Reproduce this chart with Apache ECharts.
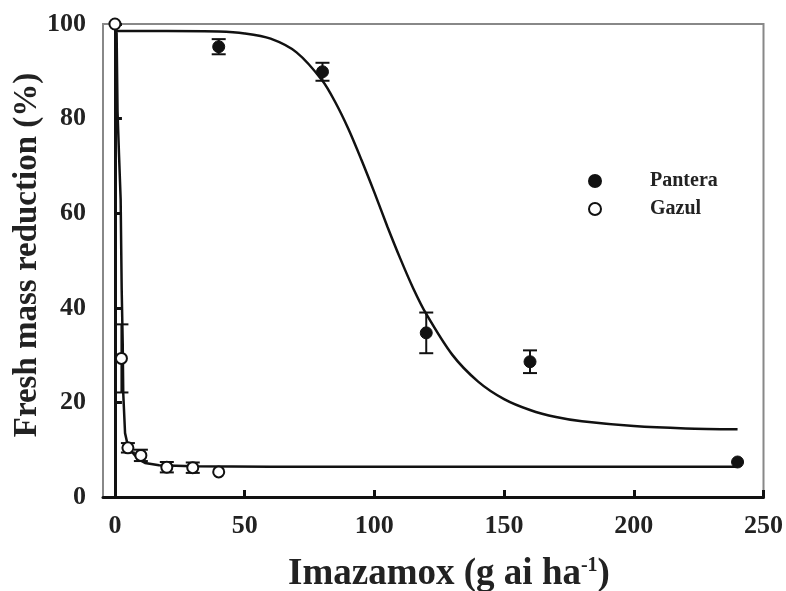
<!DOCTYPE html>
<html>
<head>
<meta charset="utf-8">
<script src="https://cdn.jsdelivr.net/npm/echarts@6/dist/echarts.min.js"></script>
<style>html,body{margin:0;padding:0;background:#fff}#c{width:786px;height:591px}</style>
</head>
<body>
<div id="c"></div>
<script>
// ---- data ----
var xTicks = [0, 50, 100, 150, 200, 250];
var yTicks = [0, 20, 40, 60, 80, 100];

var panteraX = [40, 80, 120, 160, 240];
var panteraY = [95.2, 89.9, 34.7, 28.6, 7.4];
var panteraErr = [1.6, 1.9, 4.3, 2.4, 0];

var gazulX = [0, 2.5, 5, 10, 20, 30, 40];
var gazulY = [100, 29.3, 10.4, 8.8, 6.3, 6.2, 5.3];
var gazulErr = [0, 7.2, 1.0, 1.2, 1.1, 1.1, 0];

// fitted curves, points
var panteraCurveX = [0, 20, 40, 50, 60, 70, 80, 85, 90, 95, 100, 105, 110, 115, 120, 130, 140, 150, 160, 170, 180, 200, 220, 240];
var panteraCurveY = [98.5, 98.5, 98.4, 98.0, 96.9, 94.0, 88.0, 83.4, 77.8, 71.3, 64.4, 57.2, 50.4, 44.1, 38.7, 30.1, 24.4, 20.7, 18.4, 16.9, 16.0, 15.0, 14.5, 14.3];
var gazulCurveX = [0, 0.65, 1.0, 1.6, 2.2, 2.6, 3.0, 3.2, 3.9, 5.0, 6.9, 9.0, 11.6, 17, 30, 60, 120, 240];
var gazulCurveY = [100, 98, 81.5, 72, 63, 44, 32.5, 22, 13.5, 10.8, 9.3, 8.0, 7.2, 6.7, 6.5, 6.4, 6.4, 6.4];

function pairs(xs, ys) { return xs.map(function (x, i) { return [x, ys[i]]; }); }
function errData(xs, ys, es) { return xs.map(function (x, i) { return [x, ys[i] - es[i], ys[i] + es[i]]; }).filter(function (d, i) { return es[i] > 0; }); }

var FONT = "'Liberation Serif','Times New Roman',serif";
var TXT = '#222';

function errRender(params, api) {
  var x = api.value(0);
  var lo = api.coord([x, api.value(1)]);
  var hi = api.coord([x, api.value(2)]);
  var w = 7;
  var st = { stroke: '#111', lineWidth: 2 };
  return {
    type: 'group',
    children: [
      { type: 'line', shape: { x1: lo[0], y1: lo[1], x2: hi[0], y2: hi[1] }, style: st },
      { type: 'line', shape: { x1: lo[0] - w, y1: lo[1], x2: lo[0] + w, y2: lo[1] }, style: st },
      { type: 'line', shape: { x1: hi[0] - w, y1: hi[1], x2: hi[0] + w, y2: hi[1] }, style: st }
    ]
  };
}

var chart = echarts.init(document.getElementById('c'), null, { renderer: 'canvas' });
chart.setOption({
  animation: false,
  backgroundColor: '#fff',
  grid: { left: 103, right: 22, top: 24, bottom: 94, show: true, borderColor: '#888', borderWidth: 2, backgroundColor: 'transparent' },
  xAxis: {
    type: 'value', min: -4.6, max: 250,
    splitLine: { show: false },
    axisLine: { onZero: false, lineStyle: { color: '#111', width: 3 } },
    axisTick: { inside: true, length: 7, lineStyle: { color: '#111', width: 3 }, customValues: xTicks },
    axisLabel: { customValues: xTicks, color: TXT, fontFamily: FONT, fontWeight: 'bold', fontSize: 26, margin: 16 }
  },
  yAxis: {
    type: 'value', min: 0, max: 100, interval: 20,
    splitLine: { show: false },
    axisLine: { lineStyle: { color: '#111', width: 3 } },
    axisTick: { inside: true, length: 7, lineStyle: { color: '#111', width: 3 } },
    axisLabel: { color: TXT, fontFamily: FONT, fontWeight: 'bold', fontSize: 26, margin: 17 }
  },
  legend: {
    orient: 'vertical', left: 583, top: 166, itemWidth: 12, itemHeight: 12, itemGap: 8,
    data: ['Pantera', 'Gazul'],
    textStyle: { color: TXT, fontFamily: FONT, fontWeight: 'bold', fontSize: 20, padding: [0, 0, 0, 44] }
  },
  graphic: [
    { type: 'text', x: 27, y: 255, rotation: Math.PI / 2, style: { text: 'Fresh mass reduction (%)', font: 'bold 33px ' + FONT, fill: TXT, align: 'center', verticalAlign: 'middle' } },
    { type: 'text', x: 449, y: 574, style: { text: '{a|Imazamox (g ai ha}{s|-1}{a|)}', align: 'center', verticalAlign: 'middle', fill: TXT,
        rich: { a: { fontFamily: FONT, fontWeight: 'bold', fontSize: 37, fill: TXT, color: TXT }, s: { fontFamily: FONT, fontWeight: 'bold', fontSize: 20, verticalAlign: 'top', color: TXT, fill: TXT, padding: [0, 0, 16, 0] } } } }
  ],
  series: [
    { name: 'PanteraCurve', type: 'line', data: pairs(panteraCurveX, panteraCurveY), smooth: 0.3, symbol: 'none', lineStyle: { color: '#111', width: 2.5 }, z: 2 },
    { name: 'GazulCurve', type: 'line', data: pairs(gazulCurveX, gazulCurveY), smooth: false, symbol: 'none', lineStyle: { color: '#111', width: 2.5 }, z: 2 },
    { name: 'PanteraErr', type: 'custom', data: errData(panteraX, panteraY, panteraErr), renderItem: errRender, z: 3, clip: false },
    { name: 'GazulErr', type: 'custom', data: errData(gazulX, gazulY, gazulErr), renderItem: errRender, z: 3, clip: false },
    { name: 'Pantera', type: 'scatter', data: pairs(panteraX, panteraY), symbol: 'circle', symbolSize: 12, itemStyle: { color: '#111', borderColor: '#111', borderWidth: 1, opacity: 1 }, z: 4, clip: false },
    { name: 'Gazul', type: 'scatter', data: pairs(gazulX, gazulY), symbol: 'circle', symbolSize: 11, itemStyle: { color: '#fff', borderColor: '#111', borderWidth: 2, opacity: 1 }, z: 4, clip: false }
  ]
});
</script>
</body>
</html>
